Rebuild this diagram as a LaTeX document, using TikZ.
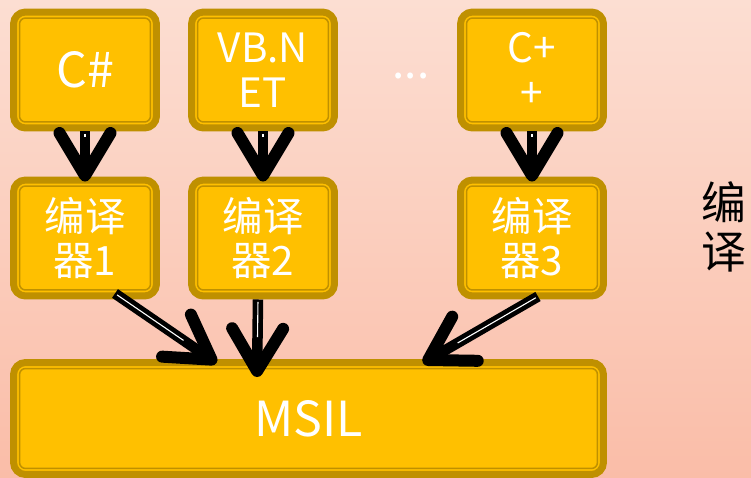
\documentclass[tikz,border=0pt]{standalone}
\usepackage{fontspec}
\setmainfont{Noto Sans CJK SC}
\usetikzlibrary{arrows.meta}
\definecolor{bgtop}{RGB}{252,222,210}
\definecolor{bgbottom}{RGB}{250,189,168}
\definecolor{boxfill}{RGB}{255,192,0}
\definecolor{boxedge}{RGB}{191,144,0}
\begin{document}
\begin{tikzpicture}[x=0.02cm,y=-0.02cm,
  box/.style={rectangle,rounded corners=0.24cm,fill=boxfill,draw=boxedge,line width=0.14cm,
    minimum width=2.86cm,minimum height=2.32cm,inner sep=0pt,text=white,align=center,
    font=\fontsize{23}{25.5}\selectfont},
  innerline/.style={draw=boxedge,line width=0.03cm,rounded corners=0.12cm},
  bigarrow/.style={line width=0.21cm,-{Straight Barb[length=0.85cm,width=1.02cm,line width=0.24cm,round]},
    postaction={draw=white,line width=0.022cm,-,shorten >=0.8cm,shorten <=0.05cm}}]
  \useasboundingbox (0,0) rectangle (751,477);
  \shade[top color=bgtop,bottom color=bgbottom] (0,0) rectangle (751,477);

  \node[box] (cs) at (85,70) {\fontsize{27.5}{30}\selectfont C\#};
  \node[box] (vb) at (263,70) {VB.N\\ET};
  \node[box] (cpp) at (532,70) {C+\\+};
  \node[box] (c1) at (85,238) {编译\\器1};
  \node[box] (c2) at (263,238) {编译\\器2};
  \node[box] (c3) at (532,238) {编译\\器3};
  \node[box,minimum width=11.8cm,minimum height=2.24cm,font=\fontsize{27.5}{30}\selectfont] (msil) at (308.5,418.5) {MSIL};
  \node[text=white,font=\fontsize{25}{27}\selectfont] (dots) at (411,76) {...};
  \node[align=center,font=\fontsize{25.5}{28}\selectfont] (label) at (724,227) {编\\译};

  \foreach \n in {cs,vb,cpp,c1,c2,c3,msil}
    \draw[innerline] ([shift={(9.5,9.5)}]\n.north west) rectangle ([shift={(-9.5,-9.5)}]\n.south east);

  \path[shorten >=-0.1cm]
    (cs) edge[bigarrow] (c1)
    (vb) edge[bigarrow] (c2)
    (cpp) edge[bigarrow] (c3);
  \path
    ([shift={(30,-6)}]c1.south) edge[bigarrow] ([shift={(-92,4)}]msil.north)
    ([shift={(-5,0)}]c2.south) edge[bigarrow] ([shift={(-51.5,18)}]msil.north)
    ([shift={(6,-3)}]c3.south) edge[bigarrow] ([shift={(114.5,4)}]msil.north);
\end{tikzpicture}
\end{document}
